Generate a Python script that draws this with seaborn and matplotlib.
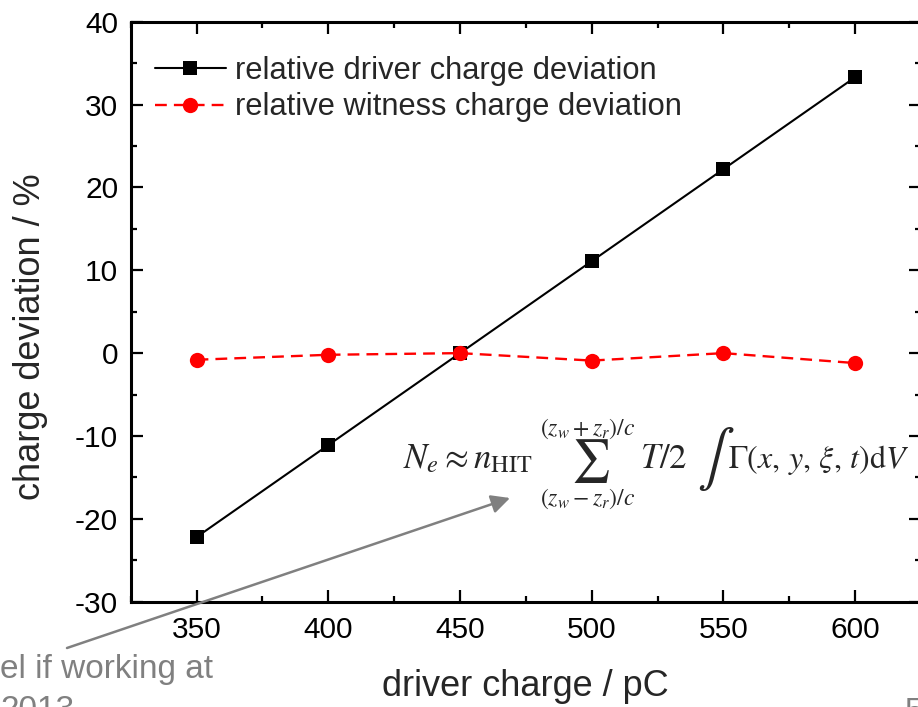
import matplotlib
matplotlib.use("Agg")
import matplotlib.pyplot as plt
import seaborn as sns
import pandas as pd
import numpy as np
from matplotlib.ticker import MultipleLocator

# ---- data ----
driver_charge = [350, 400, 450, 500, 550, 600]
driver_dev = [-22.2, -11.1, 0.0, 11.1, 22.2, 33.3]
witness_dev = [-0.8, -0.2, 0.0, -0.9, 0.0, -1.2]
label_driver = "relative driver charge deviation"
label_witness = "relative witness charge deviation"
xlabel = "driver charge / pC"
ylabel = "charge deviation / %"

sns.set_theme(style="ticks")
plt.rcParams['font.family'] = ['Liberation Sans', 'DejaVu Sans']
plt.rcParams['mathtext.fontset'] = 'stix'
plt.rcParams['axes.unicode_minus'] = False

W, H = 918, 707
fig = plt.figure(figsize=(W / 100, H / 100), dpi=100)
L, R, T, B = 130.7, 921.0, 21.7, 601.7
ax = fig.add_axes([L / W, 1 - B / H, (R - L) / W, (B - T) / H])

df = pd.DataFrame({"charge": driver_charge, "driver": driver_dev, "witness": witness_dev})
sns.lineplot(data=df, x="charge", y="driver", ax=ax, color="black", lw=1.5,
             marker="s", markersize=9.5, markeredgewidth=0, label=label_driver)
sns.lineplot(data=df, x="charge", y="witness", ax=ax, color="#ff0000", lw=1.7,
             marker="o", markersize=11, markeredgewidth=0, dashes=(5, 3),
             label=label_witness)

ax.set_xlim(325, 625)
ax.set_ylim(-30, 40)
ax.xaxis.set_major_locator(MultipleLocator(50))
ax.xaxis.set_minor_locator(MultipleLocator(25))
ax.yaxis.set_major_locator(MultipleLocator(10))
ax.yaxis.set_minor_locator(MultipleLocator(5))
ax.tick_params(which="both", direction="in", top=True, right=True, width=1.6,
               labelsize=21.5, colors="black")
ax.tick_params(which="major", length=8.6)
ax.tick_params(which="minor", length=4.3)
ax.tick_params(axis="x", pad=10.5)
ax.tick_params(axis="y", pad=9)
for s in ax.spines.values():
    s.set_linewidth(2.2)
    s.set_color("black")

ax.set_xlabel(xlabel, fontsize=26)
ax.set_ylabel(ylabel, fontsize=26)
ax.xaxis.set_label_coords(0.5, (B - 669) / (B - T))
ax.yaxis.set_label_coords((48 - L) / (R - L), (B - 337) / (B - T))

leg = ax.legend(loc="upper left", bbox_to_anchor=((155 - L) / (R - L), (B - 56) / (B - T)),
                frameon=False, fontsize=22.2, handlelength=2.3, handletextpad=0.28,
                labelspacing=0.21, borderpad=0, borderaxespad=0)

# formula annotation, composed of pieces
base = 1 - 468 / H
fig.text(403 / W, base, r"$N_e \approx n_{\mathrm{HIT}}$", fontsize=25, ha="left", va="baseline")
fig.text(590 / W, 1 - 461 / H, r"$\sum$", fontsize=31, ha="center", va="center")
fig.text(588 / W, 1 - 429 / H, r"$(z_w + z_r)/c$", fontsize=17, ha="center", va="center")
fig.text(588 / W, 1 - 499 / H, r"$(z_w - z_r)/c$", fontsize=17, ha="center", va="center")
fig.text(640 / W, base, r"$T/2$", fontsize=25, ha="left", va="baseline")
fig.text(697 / W, 1 - 459 / H, r"$\int$", fontsize=40, ha="left", va="center")
fig.text(728 / W, base, r"$\Gamma(x,\, y,\, \xi,\, t)\mathrm{d}V$", fontsize=23, ha="left", va="baseline")

# arrow
ax.annotate("", xy=(510 / W, 1 - 498 / H), xytext=(67 / W, 1 - 648 / H),
            xycoords="figure fraction", textcoords="figure fraction",
            arrowprops=dict(arrowstyle="-|>", color="#808080", lw=1.8, mutation_scale=28,
                            shrinkA=0, shrinkB=0),
            annotation_clip=False)

# slide residue text
fig.text(213 / W, 1 - 678 / H, "el if working at", fontsize=24, ha="right", va="baseline", color="#808080")
fig.text(0 / W, 1 - 719 / H, "2013", fontsize=24, ha="left", va="baseline", color="#808080")
fig.text(905 / W, 1 - 721 / H, "5", fontsize=24, ha="left", va="baseline", color="#808080")

fig.savefig("out.png", dpi=100)
